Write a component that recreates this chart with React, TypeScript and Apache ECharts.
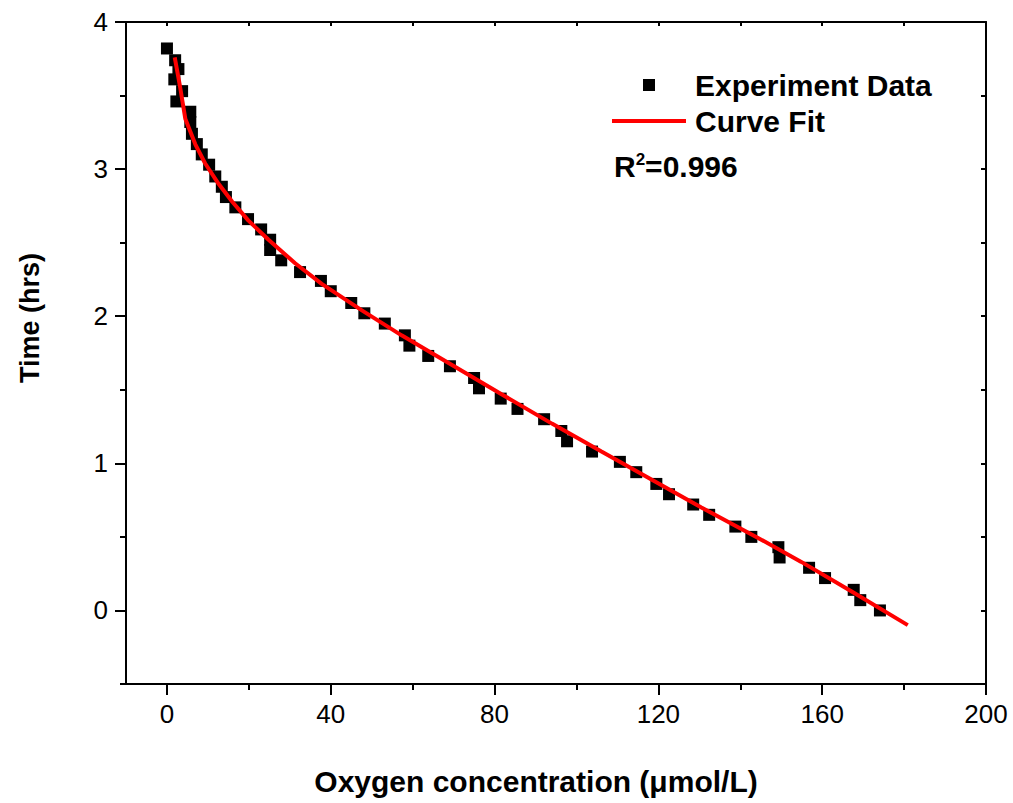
import React, { useEffect, useRef } from "react";
import * as echarts from "echarts";

const experimentData: [number, number][] = [
  [0.0, 3.82], [2.0, 3.74], [2.8, 3.68], [1.8, 3.61], [3.7, 3.53], [2.3, 3.46],
  [5.7, 3.39], [5.7, 3.32], [6.1, 3.24], [7.3, 3.17], [8.5, 3.10], [10.3, 3.03],
  [11.8, 2.95], [13.4, 2.88], [14.4, 2.81], [16.7, 2.74], [19.8, 2.66], [23.0, 2.59],
  [25.2, 2.52], [25.2, 2.45], [27.9, 2.38], [32.5, 2.30], [37.6, 2.24], [40.0, 2.17],
  [45.0, 2.09], [48.2, 2.02], [53.2, 1.95], [58.1, 1.87], [59.2, 1.80], [63.8, 1.73],
  [69.1, 1.66], [75.0, 1.58], [76.2, 1.51], [81.5, 1.44], [85.6, 1.37], [92.1, 1.30],
  [96.3, 1.22], [97.7, 1.15], [103.8, 1.08], [110.6, 1.01], [114.6, 0.94], [119.5, 0.86],
  [122.6, 0.79], [128.5, 0.72], [132.4, 0.65], [138.8, 0.57], [142.7, 0.50], [149.3, 0.43],
  [149.6, 0.36], [156.8, 0.29], [160.7, 0.22], [167.7, 0.14], [169.3, 0.07], [174.1, 0.0],
];

const curveFit: [number, number][] = [
  [1.9, 3.76], [3.2, 3.56], [4.5, 3.34], [6.9, 3.17], [9.3, 3.04], [12.6, 2.90],
  [15.9, 2.78], [19.9, 2.65], [24.8, 2.52], [31.3, 2.36], [37.8, 2.22], [47.6, 2.04],
  [57.3, 1.87], [69.5, 1.67], [81.7, 1.47], [94.0, 1.27], [106.1, 1.08], [118.3, 0.89],
  [130.5, 0.70], [143.9, 0.50], [154.9, 0.33], [167.1, 0.13], [180.9, -0.10],
];

const xMajorTicks = [0, 40, 80, 120, 160, 200];
const xMinorTicks = [20, 60, 100, 140, 180];
const xTopTicks = [0, 20, 40, 60, 80, 100, 120, 140, 160, 180, 200];
const yMajorTicks = [0, 1, 2, 3, 4];
const yMinorTicks = [-0.5, 0.5, 1.5, 2.5, 3.5];
const yRightTicks = [-0.5, 0, 0.5, 1, 1.5, 2, 2.5, 3, 3.5, 4];

const xTitle = "Oxygen concentration (\u03bcmol/L)";
const yTitle = "Time (hrs)";
const legendScatter = "Experiment Data";
const legendLine = "Curve Fit";
const r2Value = "0.996";

const FONT = "'Liberation Sans', Arial, Helvetica, sans-serif";

export default function App() {
  const ref = useRef<HTMLDivElement>(null);
  useEffect(() => {
    document.body.style.margin = "0";
    if (!ref.current) return;
    const chart = echarts.init(ref.current, undefined, { renderer: "svg" });
    const axisLineStyle = { color: "#000", width: 2 };
    const xBase = { type: "value", min: -10, max: 200, splitLine: { show: false } };
    const yBase = { type: "value", min: -0.5, max: 4, splitLine: { show: false } };
    chart.setOption({
      animation: false,
      backgroundColor: "#fff",
      textStyle: { fontFamily: FONT },
      grid: { left: 126, right: 27, top: 22, bottom: 119, containLabel: false },
      xAxis: [
        {
          ...xBase,
          position: "bottom",
          axisLine: { show: true, onZero: false, lineStyle: axisLineStyle },
          axisTick: { show: true, inside: false, length: 11, customValues: xMajorTicks, lineStyle: axisLineStyle },
          axisLabel: { show: true, customValues: xMajorTicks, margin: 17, fontSize: 26, color: "#000", fontFamily: FONT },
        },
        {
          ...xBase,
          position: "bottom",
          axisLine: { show: false, onZero: false },
          axisTick: { show: true, inside: false, length: 6, customValues: xMinorTicks, lineStyle: axisLineStyle },
          axisLabel: { show: false },
        },
        {
          ...xBase,
          position: "top",
          axisLine: { show: true, onZero: false, lineStyle: axisLineStyle },
          axisTick: { show: true, inside: true, length: 4, customValues: xTopTicks, lineStyle: axisLineStyle },
          axisLabel: { show: false },
        },
      ],
      yAxis: [
        {
          ...yBase,
          position: "left",
          axisLine: { show: true, onZero: false, lineStyle: axisLineStyle },
          axisTick: { show: true, inside: false, length: 11, customValues: yMajorTicks, lineStyle: axisLineStyle },
          axisLabel: { show: true, customValues: yMajorTicks, margin: 18, fontSize: 26, color: "#000", fontFamily: FONT },
        },
        {
          ...yBase,
          position: "left",
          axisLine: { show: false, onZero: false },
          axisTick: { show: true, inside: false, length: 6, customValues: yMinorTicks, lineStyle: axisLineStyle },
          axisLabel: { show: false },
        },
        {
          ...yBase,
          position: "right",
          axisLine: { show: true, onZero: false, lineStyle: axisLineStyle },
          axisTick: { show: true, inside: true, length: 5, customValues: yRightTicks, lineStyle: axisLineStyle },
          axisLabel: { show: false },
        },
      ],
      series: [
        {
          name: legendScatter,
          type: "scatter",
          xAxisIndex: 0,
          yAxisIndex: 0,
          symbol: "rect",
          symbolSize: 12,
          itemStyle: { color: "#000", opacity: 1 },
          data: experimentData,
          z: 2,
        },
        {
          name: legendLine,
          type: "line",
          xAxisIndex: 0,
          yAxisIndex: 0,
          showSymbol: false,
          smooth: false,
          lineStyle: { color: "#ff0000", width: 4 },
          data: curveFit,
          z: 3,
        },
      ],
      graphic: [
        { type: "rect", shape: { x: 643, y: 79, width: 12, height: 12 }, style: { fill: "#000" } },
        { type: "line", shape: { x1: 612, y1: 121, x2: 686, y2: 121 }, style: { stroke: "#ff0000", lineWidth: 4 } },
        {
          type: "text", x: 695, y: 85,
          style: { text: legendScatter, font: `bold 30px ${FONT}`, fill: "#000", textAlign: "left", textVerticalAlign: "middle" },
        },
        {
          type: "text", x: 695, y: 121,
          style: { text: legendLine, font: `bold 30px ${FONT}`, fill: "#000", textAlign: "left", textVerticalAlign: "middle" },
        },
        {
          type: "text", x: 614, y: 166,
          style: {
            text: `{r|R}{s|2}{r|=${r2Value}}`,
            textAlign: "left",
            textVerticalAlign: "middle",
            fill: "#000",
            rich: {
              r: { fontSize: 30, fontWeight: "bold", fontFamily: FONT, fill: "#000", verticalAlign: "bottom" },
              s: { fontSize: 17, fontWeight: "bold", fontFamily: FONT, fill: "#000", verticalAlign: "top", padding: [0, 0, 14, 0] },
            },
          },
        },
        {
          type: "text", x: 536, y: 781,
          style: { text: xTitle, font: `bold 30px ${FONT}`, fill: "#000", textAlign: "center", textVerticalAlign: "middle" },
        },
        {
          type: "text", x: 30, y: 318, rotation: Math.PI / 2,
          style: { text: yTitle, font: `bold 27px ${FONT}`, fill: "#000", textAlign: "center", textVerticalAlign: "middle" },
        },
      ],
    });
    return () => chart.dispose();
  }, []);
  return <div ref={ref} style={{ width: 1013, height: 803 }} />;
}
